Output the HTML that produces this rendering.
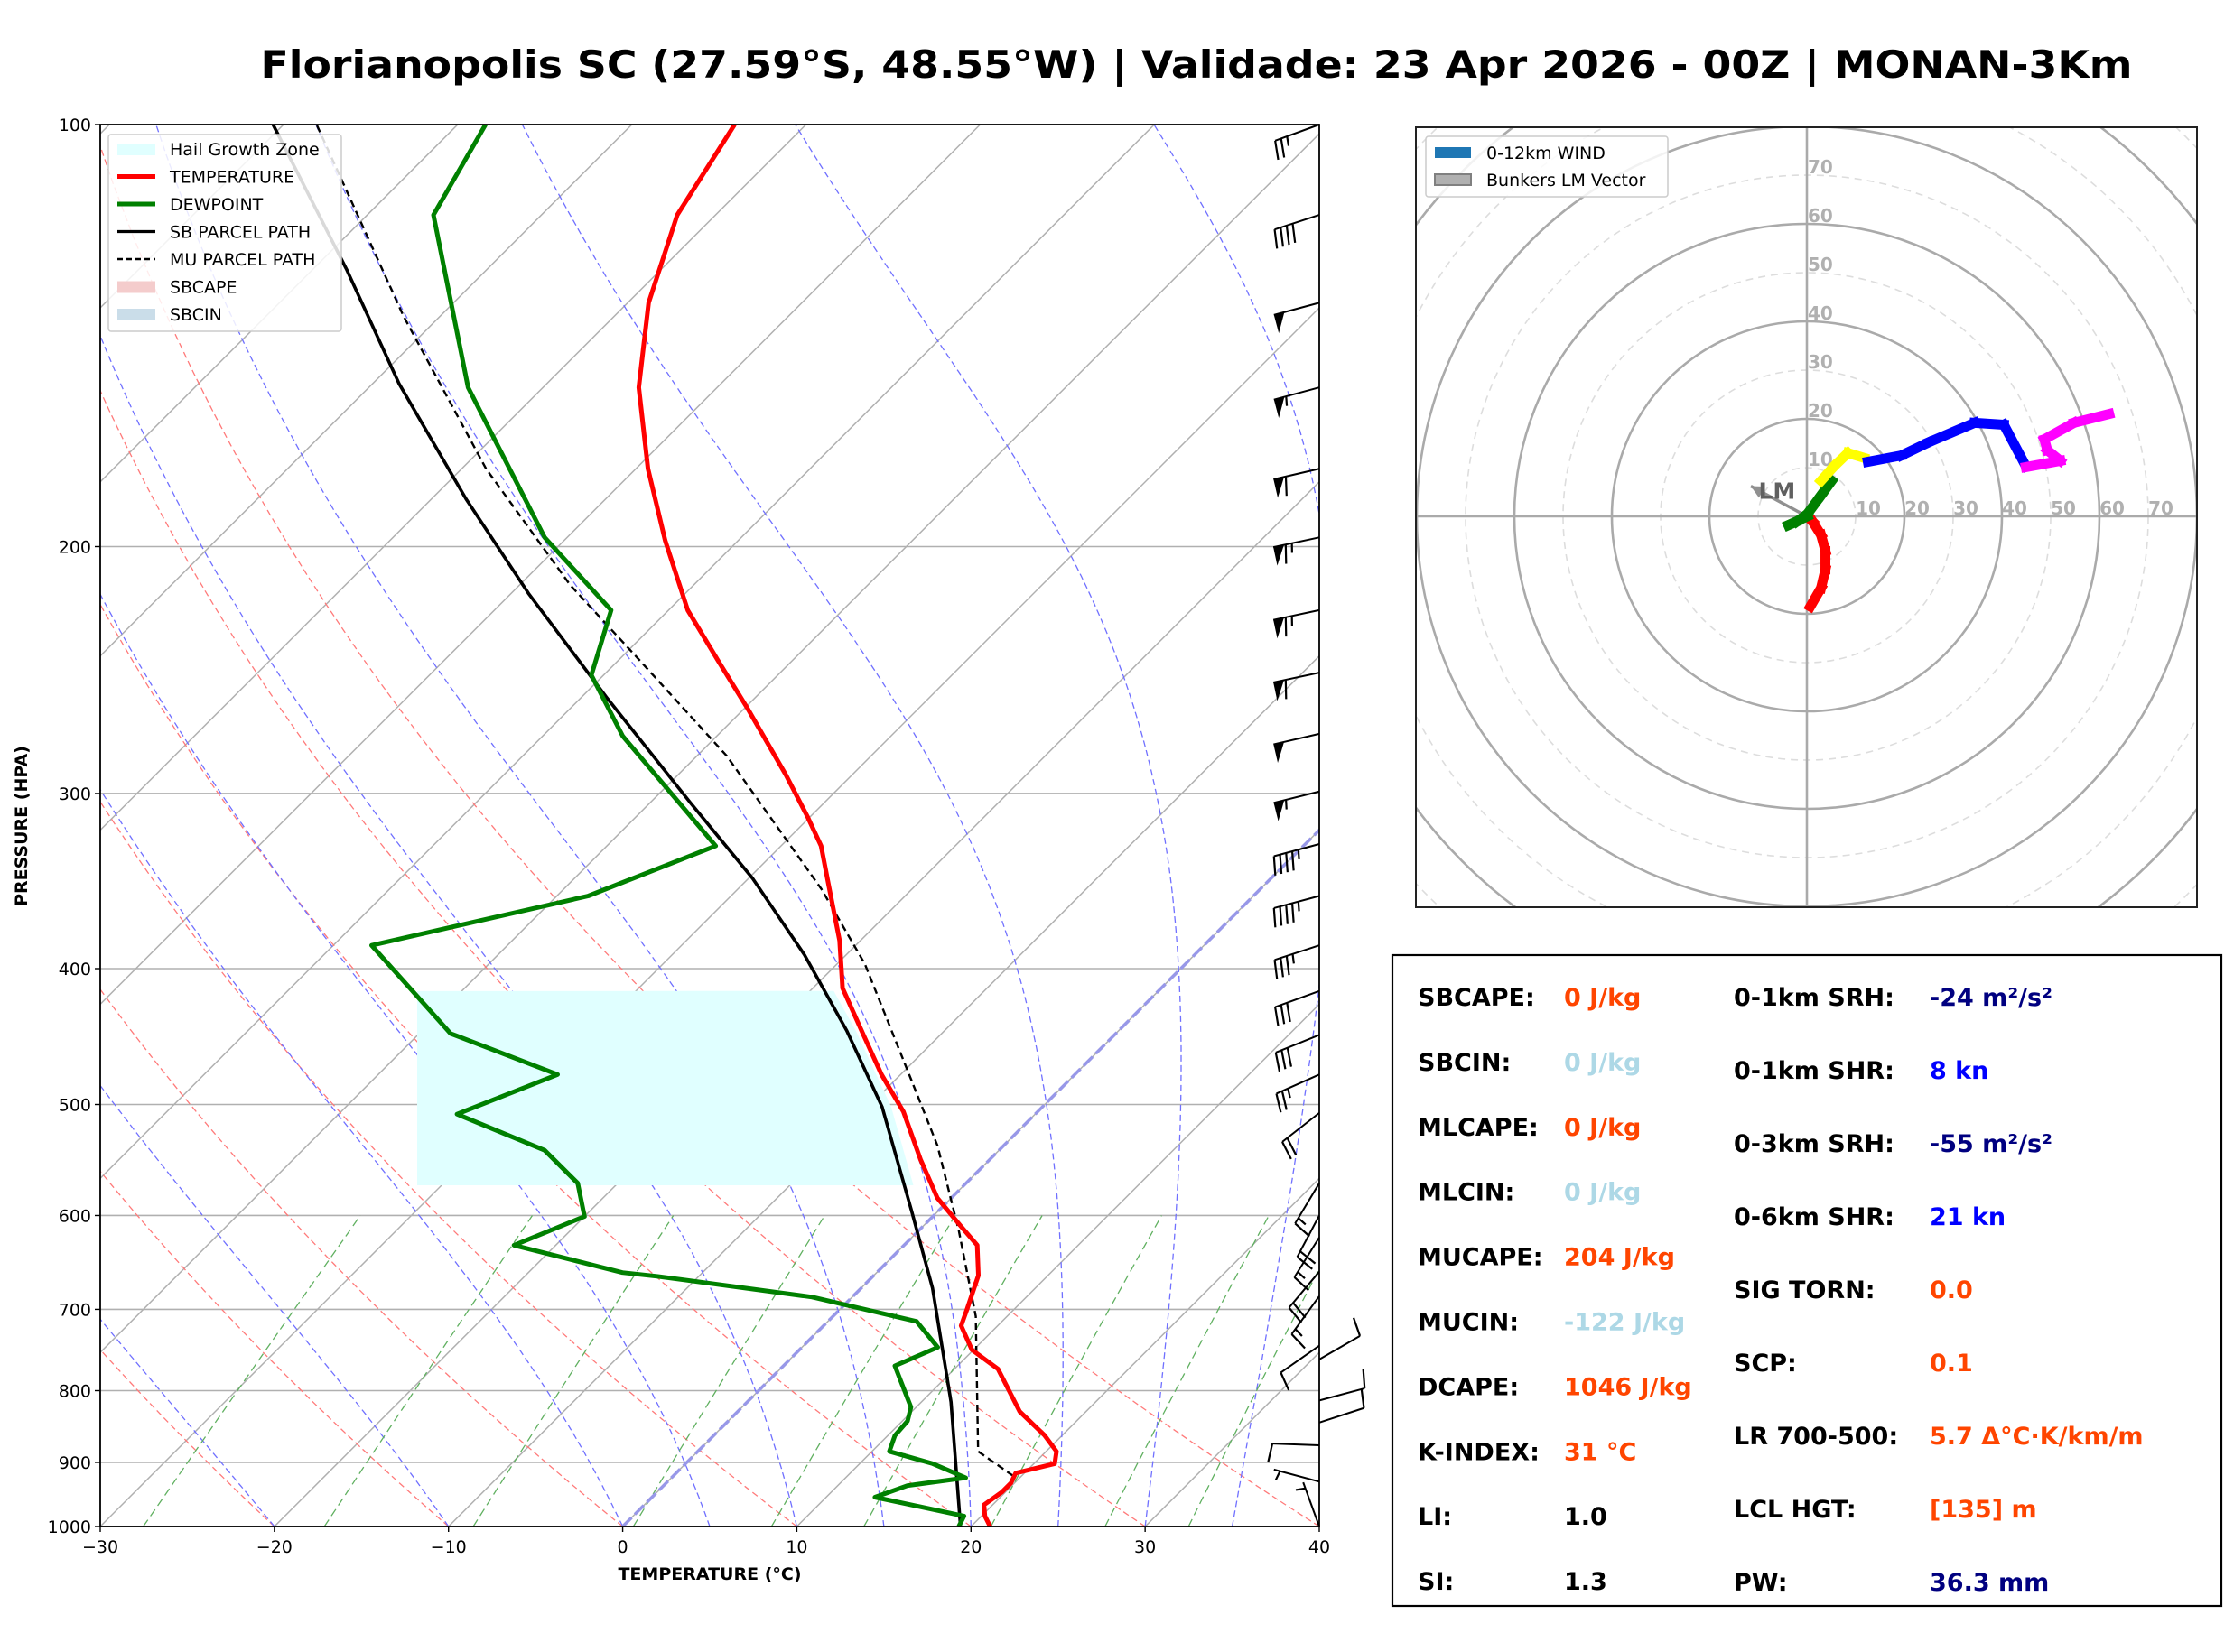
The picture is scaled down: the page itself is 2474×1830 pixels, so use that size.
<!DOCTYPE html>
<html><head><meta charset="utf-8">
<style>
html,body{margin:0;padding:0;background:#fff;}
svg{display:block;font-family:"DejaVu Sans","Liberation Sans",sans-serif;}
</style></head>
<body>
<svg id="fig" xmlns="http://www.w3.org/2000/svg" width="2474" height="1830" viewBox="0 0 2474 1830">
<rect x="0" y="0" width="2474" height="1830" fill="#fff"/>
<text x="1325" y="86" text-anchor="middle" font-size="42" font-weight="bold" textLength="2073" lengthAdjust="spacingAndGlyphs">Florianopolis SC (27.59°S, 48.55°W) | Validade: 23 Apr 2026 - 00Z | MONAN-3Km</text>
<defs>
<clipPath id="skewclip"><rect x="111" y="138" width="1350" height="1553"/></clipPath>
<clipPath id="hodoclip"><rect x="1568" y="141" width="865" height="864"/></clipPath>
</defs>
<g id="skew"></g>
<g id="hodo"></g>
<g id="stats">
<rect x="1542" y="1058" width="918" height="721" fill="none" stroke="#000" stroke-width="2.2"/>
</g>
</svg>
<script>
// ---------- Skew-T data ----------
const tempP = [1000,983,965,945,931,916,902,884,861,828,772,748,719,700,662,630,610,583,547,506,476,447,413,382,348,327,312,291,261,241,222,198,176,154,134,116,100];
const tempT = [21.1,20.2,19.5,19.8,19.8,19.5,21.2,20.6,19.0,16.2,12.5,9.9,7.9,7.3,6.0,4.2,2.1,-0.8,-4.0,-7.7,-11.1,-14.3,-18.3,-21.2,-25.1,-27.7,-30.1,-33.8,-39.8,-44.3,-48.9,-54.2,-59.3,-64.5,-68.8,-72.2,-74.1];
const dewP = [1000,983,953,935,923,902,884,861,841,822,768,745,714,686,663,659,630,601,569,539,508,476,445,385,355,327,273,247,222,197,154,116,100];
const dewT = [19.3,19.0,12.8,14.0,16.9,14.2,11.0,10.4,10.3,9.7,6.4,7.8,5.1,-2.3,-12.4,-14.6,-22.4,-20.0,-22.3,-26.1,-33.2,-29.7,-38.2,-47.8,-38.2,-33.75,-45.4,-50.7,-53.3,-61.3,-74.3,-86.2,-88.4];
const sbP = [1000,815,676,596,502,443,391,345,305,256,216,185,153,127,100];
const sbT = [19.4,11.7,4.1,-1.5,-9.2,-15.6,-22.4,-29.75,-37.6,-48.6,-59.0,-68.0,-78.5,-88.0,-100.6];
const muP = [920,884,708,615,535,480,397,351,282,241,213,176,137,100];
const muT = [19.5,16.1,8.2,2.3,-3.8,-9.1,-18.4,-25.2,-38.3,-48.8,-57.1,-68.6,-82.1,-98.1];
const hailTop = 415, hailBottom = 571;
const pTicks = [100,200,300,400,500,600,700,800,900,1000];
const tTicks = [-30,-20,-10,0,10,20,30,40];
const barbP = [100,116,134,154,176,197,222,246,272,299,326,355,385,415,446,476,507,569,600,622,658,685,743,760,813,843,875,929,1000];
const barbDir = [250,252,255,255,257,258,258,258,257,256,255,255,252,250,248,246,232,211,208,212,220,216,235,60,75,72,272,285,340];
const barbSpd = [25,40,50,55,60,65,65,60,50,55,45,45,35,30,30,25,20,15,20,15,20,15,10,10,10,10,10,5,5];
// ---------- Hodograph data (u,v kt) ----------
const hodoRedU = [0.7,2.9,3.8,3.8,2.9,1.2,0.1];
const hodoRedV = [-18.5,-14.7,-10.9,-7.1,-3.8,-1.1,0];
const hodoGreenU = [0.1,-3.8,-2.1,0.1,2.9,5.1];
const hodoGreenV = [0,-1.8,-1.1,0.5,4.3,7.3];
const hodoYellowU = [2.9,5.6,8.4,11.7];
const hodoYellowV = [7.3,10.3,13.0,12.0];
const hodoBlueU = [12.5,19.4,25.0,34.4,40.4,44.9];
const hodoBlueV = [11.2,12.5,15.2,19.2,18.8,10.3];
const hodoMagU = [44.9,52.0,49.3,48.7,54.8,62.0];
const hodoMagV = [10.1,11.4,13.6,15.8,19.2,21.0];
const lmU = -11.5, lmV = 6.2;
const ringLabels = [10,20,30,40,50,60,70];

const NS = "http://www.w3.org/2000/svg";
function mk(tag, attrs, parent){const e=document.createElementNS(NS,tag);for(const k in attrs)e.setAttribute(k,attrs[k]);if(parent)parent.appendChild(e);return e;}

const X0=111,X1=1461,Y0=138,Y1=1691;
function yP(p){return Y1-(Y1-Y0)*Math.log10(1000/p);}
function xT(T,p){return X0+(T+30)*(X1-X0)/70+(Y1-yP(p));}
function ptsFrom(P,T){return P.map((p,i)=>xT(T[i],p).toFixed(1)+","+yP(p).toFixed(1)).join(" ");}

const skew=document.getElementById('skew');
const clipG=mk('g',{'clip-path':'url(#skewclip)'},skew);



pTicks.forEach(p=>{
  const l=mk('line',{x1:X0,x2:X1,y1:yP(p),y2:yP(p),stroke:'#b0b0b0','stroke-width':1.6},clipG);
  
  
});
for(let T=-160;T<=40;T+=10){
  const l=mk('line',{x1:xT(T,1000),y1:yP(1000),x2:xT(T,100),y2:yP(100),stroke:'#b0b0b0','stroke-width':1.5},clipG);
  
  
}
const levels=[];for(let p=1000;p>=100;p-=10)levels.push(p);
for(let t0=-30;t0<=40;t0+=10){
  const th=t0+273.15;
  const pts=levels.map(p=>xT(th*Math.pow(p/1000,0.2857)-273.15,p).toFixed(1)+","+yP(p).toFixed(1)).join(" ");
  const l=mk('polyline',{points:pts,fill:'none',stroke:'#ff7a7a','stroke-width':1.3,'stroke-dasharray':'7,4'},clipG);
  
  
}
function es(Tc){return 6.112*Math.exp(17.67*Tc/(Tc+243.5));}
function moistLapse(T,p){
  const Rd=287.04,Cp=1005.7,Lv=2.501e6,eps=0.622;
  const rs=eps*es(T-273.15)/(p-es(T-273.15));
  return (1/p)*(Rd*T+Lv*rs)/(Cp+Lv*Lv*rs*eps/(Rd*T*T));
}
const moistStarts=[-30,-20,-10,0,5,10,15,20,25,30,35,40,45];
moistStarts.forEach(t0=>{
  let T=t0+273.15,p=1000;const pts=[];
  pts.push(xT(T-273.15,p).toFixed(1)+","+yP(p).toFixed(1));
  while(p>100){const dp=-5;T+=moistLapse(T,p)*dp;p+=dp;pts.push(xT(T-273.15,p).toFixed(1)+","+yP(p).toFixed(1));}
  const l=mk('polyline',{points:pts.join(" "),fill:'none',stroke:'#7070ff','stroke-width':1.3,'stroke-dasharray':'7,4'},clipG);
  
  
});
const mixRatios=[0.0004,0.001,0.002,0.004,0.007,0.01,0.016,0.024,0.032];
mixRatios.forEach(w=>{
  const pts=[];
  for(let p=1000;p>=600;p-=20){const e=w*p/(0.622+w);const a=Math.log(e/6.112);const td=243.5*a/(17.67-a);pts.push(xT(td,p).toFixed(1)+","+yP(p).toFixed(1));}
  const l=mk('polyline',{points:pts.join(" "),fill:'none',stroke:'#60b060','stroke-width':1.3,'stroke-dasharray':'9,5'},clipG);
  
  
});
const zl=mk('line',{x1:xT(0,1000),y1:yP(1000),x2:xT(0,100),y2:yP(100),stroke:'#9898e8','stroke-width':3.5,'stroke-dasharray':'14,5'},clipG);



function interpT(P,T,p){for(let i=0;i<P.length-1;i++){if(p<=P[i]&&p>=P[i+1]){const f=Math.log(P[i]/p)/Math.log(P[i]/P[i+1]);return T[i]+f*(T[i+1]-T[i]);}}return T[T.length-1];}
(function(){
  const pts=[];const left=462;
  pts.push(left+","+yP(hailBottom));pts.push(left+","+yP(hailTop));
  for(let p=hailTop;p<=hailBottom;p+=4){pts.push((xT(interpT(sbP,sbT,p),p)+10).toFixed(1)+","+yP(p).toFixed(1));}
  pts.push((xT(interpT(sbP,sbT,hailBottom),hailBottom)+10).toFixed(1)+","+yP(hailBottom));
  const h=mk('polygon',{points:pts.join(" "),fill:'#e0ffff'},clipG);
  
  
})();

const mu=mk('polyline',{points:ptsFrom(muP,muT),fill:'none',stroke:'#000','stroke-width':2.4,'stroke-dasharray':'8,5'},clipG);


const sb=mk('polyline',{points:ptsFrom(sbP,sbT),fill:'none',stroke:'#000','stroke-width':3.6,'stroke-linejoin':'round'},clipG);


const dw=mk('polyline',{points:ptsFrom(dewP,dewT),fill:'none',stroke:'#008000','stroke-width':5,'stroke-linejoin':'round'},clipG);


const tl=mk('polyline',{points:ptsFrom(tempP,tempT),fill:'none',stroke:'#ff0000','stroke-width':5,'stroke-linejoin':'round'},clipG);



const fr=mk('rect',{x:X0,y:Y0,width:X1-X0,height:Y1-Y0,fill:'none',stroke:'#000','stroke-width':1.8},skew);


pTicks.forEach(p=>{
  mk('line',{x1:X0-6,x2:X0,y1:yP(p),y2:yP(p),stroke:'#000','stroke-width':1.4},skew);
  const t=mk('text',{x:X0-10,y:yP(p)+7,'text-anchor':'end','font-size':19},skew);
  t.textContent=p;
  
  
});
tTicks.forEach(T=>{
  const x=X0+(T+30)*(X1-X0)/70;
  mk('line',{x1:x,x2:x,y1:Y1,y2:Y1+6,stroke:'#000','stroke-width':1.4},skew);
  const t=mk('text',{x:x,y:Y1+29,'text-anchor':'middle','font-size':19},skew);
  t.textContent=(T<0?'\u2212'+(-T):T);
  
  
});
const xt=mk('text',{x:786,y:1750,'text-anchor':'middle','font-size':19,'font-weight':'bold'},skew);
xt.textContent='TEMPERATURE (°C)';


const yt=mk('text',{x:0,y:0,'text-anchor':'middle','font-size':19,'font-weight':'bold',transform:'translate(30,915) rotate(-90)'},skew);
yt.textContent='PRESSURE (HPA)';



barbP.forEach((p,i)=>{
  const g=mk('g',{},skew);
  
  
  const d=barbDir[i]*Math.PI/180, s=barbSpd[i];
  const dx=Math.sin(d), dy=-Math.cos(d);
  const nx=dy, ny=-dx;
  const bx=X1, by=yP(p), L=52;
  const tx=bx+dx*L, ty=by+dy*L;
  mk('line',{x1:bx,y1:by,x2:tx,y2:ty,stroke:'#000','stroke-width':2},g);
  let pos=0; const fl=21, sp=7;
  let pen=Math.floor(s/50), full=Math.floor((s%50)/10), half=(s%10)>=5?1:0;
  for(let k=0;k<pen;k++){
    const ax=tx-dx*pos, ay=ty-dy*pos, cx=tx-dx*(pos+12), cy=ty-dy*(pos+12);
    mk('polygon',{points:`${ax},${ay} ${ax+nx*fl},${ay+ny*fl} ${cx},${cy}`,fill:'#000'},g);
    pos+=14;
  }
  for(let k=0;k<full;k++){
    const ax=tx-dx*pos, ay=ty-dy*pos;
    mk('line',{x1:ax,y1:ay,x2:ax+nx*fl+dx*4,y2:ay+ny*fl+dy*4,stroke:'#000','stroke-width':2.2},g);
    pos+=sp;
  }
  if(half){
    if(pos===0)pos=sp;
    const ax=tx-dx*pos, ay=ty-dy*pos;
    mk('line',{x1:ax,y1:ay,x2:ax+nx*fl/2+dx*2,y2:ay+ny*fl/2+dy*2,stroke:'#000','stroke-width':2.2},g);
  }
});

(function(){
  const g=mk('g',{},skew);
  
  
  mk('rect',{x:120,y:149,width:258,height:218,fill:'#fff','fill-opacity':0.85,stroke:'#ccc','stroke-width':1.5,rx:3},g);
  const labels=['Hail Growth Zone','TEMPERATURE','DEWPOINT','SB PARCEL PATH','MU PARCEL PATH','SBCAPE','SBCIN'];
  const names=['legend-hail','legend-temperature','legend-dewpoint','legend-sb-parcel','legend-mu-parcel','legend-sbcape','legend-sbcin'];
  labels.forEach((lab,i)=>{
    const y=165+i*30.5;
    const e=mk('g',{},g);
    
    
    if(i===0) mk('rect',{x:130,y:y-6,width:42,height:13,fill:'#e0ffff'},e);
    if(i===1) mk('line',{x1:130,x2:172,y1:y,y2:y,stroke:'#ff0000','stroke-width':5},e);
    if(i===2) mk('line',{x1:130,x2:172,y1:y,y2:y,stroke:'#008000','stroke-width':5},e);
    if(i===3) mk('line',{x1:130,x2:172,y1:y,y2:y,stroke:'#000','stroke-width':3.2},e);
    if(i===4) mk('line',{x1:130,x2:172,y1:y,y2:y,stroke:'#000','stroke-width':2.4,'stroke-dasharray':'6,4'},e);
    if(i===5) mk('rect',{x:130,y:y-6,width:42,height:13,fill:'#f4cccc'},e);
    if(i===6) mk('rect',{x:130,y:y-6,width:42,height:13,fill:'#cadde9'},e);
    const t=mk('text',{x:188,y:y+7,'font-size':19},e);t.textContent=lab;
  });
})();

// ---------- Hodograph ----------
const hodo=document.getElementById('hodo');
const HX=2001,HY=572,HS=5.4;
function hx(u){return HX+u*HS;}
function hy(v){return HY-v*HS;}
const hc=mk('g',{'clip-path':'url(#hodoclip)'},hodo);
for(let r=10;r<=110;r+=10){
  const c=mk('circle',{cx:HX,cy:HY,r:r*HS,fill:'none',stroke:r%20===0?'#aaa':'#ddd','stroke-width':r%20===0?2.6:1.6,'stroke-dasharray':r%20===0?'none':'8,6'},hc);
  
  
}
mk('line',{x1:1568,x2:2433,y1:HY,y2:HY,stroke:'#aaa','stroke-width':2.6},hc);
mk('line',{x1:HX,x2:HX,y1:141,y2:1005,stroke:'#aaa','stroke-width':2.6},hc);
ringLabels.forEach(r=>{
  const a=mk('text',{x:hx(r)+14,y:HY-2,'text-anchor':'middle','font-size':20,'font-weight':'bold',fill:'#b0b0b0'},hc);
  a.textContent=r;
  
  
  const b=mk('text',{x:HX+1,y:hy(r)-2,'font-size':20,'font-weight':'bold',fill:'#b0b0b0'},hc);
  b.textContent=r;
  
  
});
(function(){
  const g=mk('g',{},hc);
  
  
  const ex=hx(lmU), ey=hy(lmV);
  const ang=Math.atan2(ey-HY,ex-HX);
  mk('line',{x1:HX,y1:HY,x2:ex,y2:ey,stroke:'#909090','stroke-width':3.5},g);
  const h=14,w=7;
  const p1=[ex,ey],p2=[ex-h*Math.cos(ang)+w*Math.sin(ang),ey-h*Math.sin(ang)-w*Math.cos(ang)],p3=[ex-h*Math.cos(ang)-w*Math.sin(ang),ey-h*Math.sin(ang)+w*Math.cos(ang)];
  mk('polygon',{points:`${p1} ${p2} ${p3}`,fill:'#909090'},g);
  const t=mk('text',{x:ex+29,y:ey+14,'text-anchor':'middle','font-size':25,'font-weight':'bold',fill:'#606060'},g);
  t.textContent='LM';
})();
function hodoLine(U,V,color,name){
  const g=mk('g',{},hc);
  
  
  for(let i=0;i<U.length-1;i++){
    mk('line',{x1:hx(U[i]),y1:hy(V[i]),x2:hx(U[i+1]),y2:hy(V[i+1]),stroke:color,'stroke-width':11,'stroke-linecap':'square'},g);
  }
}
hodoLine(hodoRedU,hodoRedV,'#ff0000','hodo-segment-red');
hodoLine(hodoGreenU,hodoGreenV,'#008000','hodo-segment-green');
hodoLine(hodoYellowU,hodoYellowV,'#ffff00','hodo-segment-yellow');
hodoLine(hodoBlueU,hodoBlueV,'#0000ff','hodo-segment-blue');
hodoLine(hodoMagU,hodoMagV,'#ff00ff','hodo-segment-magenta');
const hf=mk('rect',{x:1568,y:141,width:865,height:864,fill:'none',stroke:'#222','stroke-width':2},hodo);


(function(){
  const g=mk('g',{},hodo);
  
  
  mk('rect',{x:1579,y:151,width:268,height:67,fill:'#fff','fill-opacity':0.85,stroke:'#ccc','stroke-width':1.5,rx:3},g);
  mk('rect',{x:1589,y:163,width:40,height:12,fill:'#1f77b4'},g);
  mk('rect',{x:1589,y:193,width:40,height:12,fill:'#b0b0b0',stroke:'#808080','stroke-width':2},g);
  const t1=mk('text',{x:1646,y:176,'font-size':19},g);t1.textContent='0-12km WIND';
  const t2=mk('text',{x:1646,y:206,'font-size':19},g);t2.textContent='Bunkers LM Vector';
})();

// ---------- Stats table ----------
const leftLab=['SBCAPE:','SBCIN:','MLCAPE:','MLCIN:','MUCAPE:','MUCIN:','DCAPE:','K-INDEX:','LI:','SI:'];
const leftVal=['0 J/kg','0 J/kg','0 J/kg','0 J/kg','204 J/kg','-122 J/kg','1046 J/kg','31 °C','1.0','1.3'];
const leftCol=['#ff4500','#add8e6','#ff4500','#add8e6','#ff4500','#add8e6','#ff4500','#ff4500','#000','#000'];
const rightLab=['0-1km SRH:','0-1km SHR:','0-3km SRH:','0-6km SHR:','SIG TORN:','SCP:','LR 700-500:','LCL HGT:','PW:'];
const rightVal=['-24 m²/s²','8 kn','-55 m²/s²','21 kn','0.0','0.1','5.7 Δ°C·K/km/m','[135] m','36.3 mm'];
const rightCol=['#000080','#0000ff','#000080','#0000ff','#ff4500','#ff4500','#ff4500','#ff4500','#000080'];
const st=document.getElementById('stats');
leftLab.forEach((l,i)=>{
  const y=1104+i*71.9+10;
  const a=mk('text',{x:1570,y:y,'font-size':27,'font-weight':'bold'},st);a.textContent=l;
  
  
  const b=mk('text',{x:1732,y:y,'font-size':27,'font-weight':'bold',fill:leftCol[i]},st);b.textContent=leftVal[i];
  
  
});
rightLab.forEach((l,i)=>{
  const y=1104+i*81+10;
  const a=mk('text',{x:1920,y:y,'font-size':27,'font-weight':'bold'},st);a.textContent=l;
  
  
  const b=mk('text',{x:2137,y:y,'font-size':27,'font-weight':'bold',fill:rightCol[i]},st);b.textContent=rightVal[i];
  
  
});
</script>
</body></html>
